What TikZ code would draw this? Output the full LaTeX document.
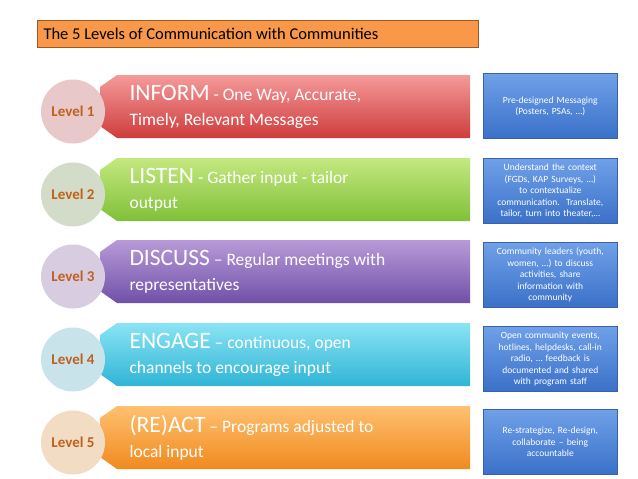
\documentclass[tikz,border=0pt]{standalone}
\usepackage{fontspec}
\setmainfont{Carlito}
\begin{document}
\begin{tikzpicture}[x=1pt,y=-1pt,
  lvl/.style={circle,minimum size=64pt,inner sep=0pt,font=\bfseries\fontsize{15}{15}\selectfont,text=lvltext},
  info/.style={draw=infoedge,line width=0.6pt,top color=infotop,bottom color=infobot,text=white,align=center,font=\fontsize{9.5}{11.5}\selectfont,minimum width=134pt,minimum height=65pt,text width=132pt,inner sep=1pt},
  bartext/.style={anchor=west,align=left,text=white,font=\fontsize{17.5}{25}\selectfont}]
\definecolor{lvltext}{HTML}{C0601E}
\definecolor{infotop}{HTML}{6FA0E8}
\definecolor{infobot}{HTML}{3A70C8}
\definecolor{infoedge}{HTML}{3B62A8}
\useasboundingbox[fill=white] (0,0) rectangle (638,479);
\node[draw={rgb,255:red,150;green,90;blue,40},fill={rgb,255:red,248;green,152;blue,72},line width=1pt,minimum width=441pt,minimum height=27pt,anchor=north west,inner sep=0pt] (title) at (37,20) {};
\node[anchor=west,font=\fontsize{16.5}{16.5}\selectfont] (tt) at (40,33.5) {The 5 Levels of Communication with Communities};
\foreach \i/\t/\ct/\cb/\cc/\big/\small/\yb/\info in {
 1/75/F59A9A/CF3C3C/E8C8C8/INFORM/{ - One Way, Accurate,\\Timely, Relevant Messages}/139/{Pre-designed Messaging\\(Posters, PSAs, \dots)},
 2/158/C4E880/80C038/D2DCC8/LISTEN/{ - Gather input - tailor\\output}/224/{Understand the context\\(FGDs, KAP Surveys, \dots)\\to contextualize\\communication.\ \ Translate,\\tailor, turn into theater,\dots},
 3/240/B89AD8/7050A8/D8CCE0/DISCUSS/{ -- Regular meetings with\\representatives}/308/{Community leaders (youth,\\women, \dots) to discuss\\activities, share\\information with\\community},
 4/323/8AE4F4/30B4D6/C8E4EA/ENGAGE/{ -- continuous, open\\channels to encourage input}/392/{Open community events,\\hotlines, helpdesks, call-in\\radio, \dots\ feedback is\\documented and shared\\with program staff},
 5/406/FFC070/F08A1E/F2DCC4/(RE)ACT/{ -- Programs adjusted to\\local input}/475/{Re-strategize, Re-design,\\collaborate -- being\\accountable}} {
  \pgfmathsetmacro{\b}{\t+63}
  \pgfmathsetmacro{\m}{\t+31.5}
  \definecolor{ct\i}{HTML}{\ct}\definecolor{cb\i}{HTML}{\cb}\definecolor{cc\i}{HTML}{\cc}
  \shade[top color=ct\i,bottom color=cb\i] (117,\t) -- (470,\t) -- (470,\b) -- (117,\b) -- (100,\b-12) -- (100,\t+12) -- cycle;
  \node[lvl,fill=cc\i] (l\i) at (73,\m+5) {Level \i};
  \node[bartext] (b\i) at (126,\m) {{\fontsize{23.5}{23.5}\selectfont\big}\small};
  \node[info,anchor=south west] (r\i) at (483,\yb) {\info};
}
\end{tikzpicture}
\end{document}
